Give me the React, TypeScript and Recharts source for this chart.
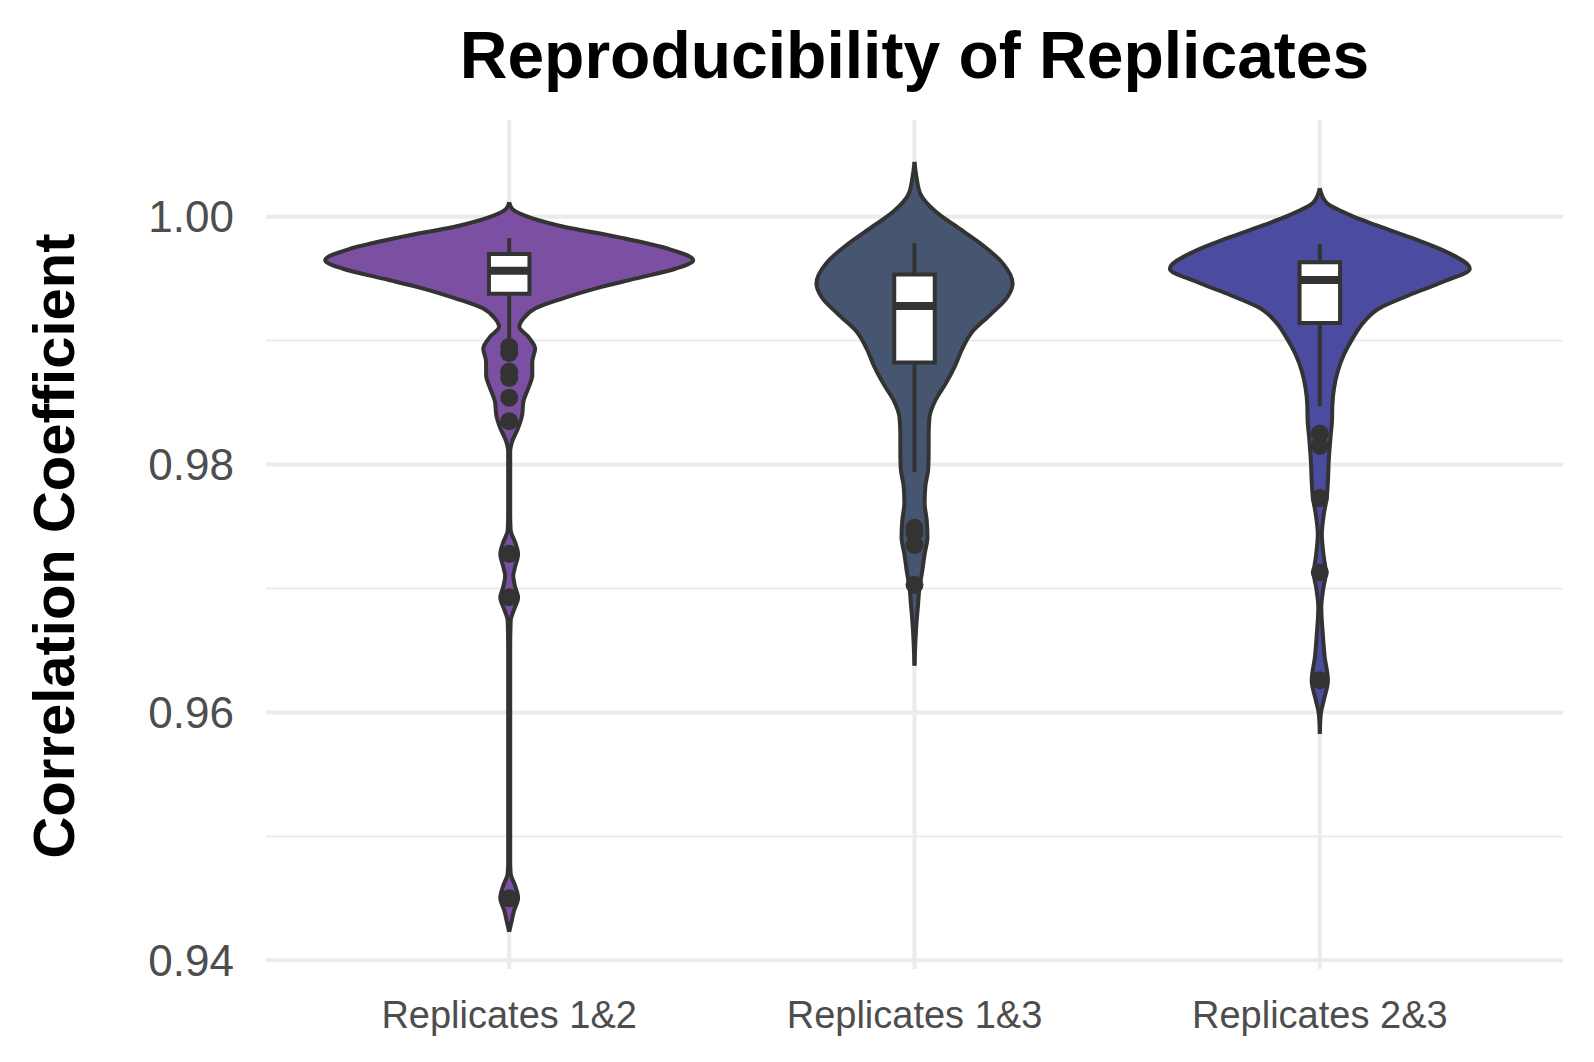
import React from "react";
import {
  ComposedChart,
  Area,
  Scatter,
  XAxis,
  YAxis,
  CartesianGrid,
  ReferenceLine,
  ReferenceArea,
} from "recharts";

const FONT = "'Liberation Sans', Arial, Helvetica, sans-serif";

const GROUPS = ["Replicates 1&2", "Replicates 1&3", "Replicates 2&3"];
const FILLS = ["#7B50A2", "#475670", "#4B4CA0"];
const Y_TICKS = [0.94, 0.96, 0.98, 1.0];
const MINOR_TICKS = [0.95, 0.97, 0.99];

// violin outlines: correlation value and half-width of the density (in group units)
const V12_Y = [1.00117, 1.00063, 1.0001, 0.99929, 0.99835, 0.99741, 0.99648, 0.9958, 0.995, 0.9942, 0.99339, 0.99259, 0.99178, 0.99111, 0.99031, 0.98937, 0.9883, 0.98723, 0.98615, 0.98508, 0.98401, 0.98294, 0.98187, 0.98106, 0.976, 0.9747, 0.9737, 0.97276, 0.9718, 0.971, 0.9701, 0.96927, 0.9683, 0.9674, 0.965, 0.948, 0.947, 0.946, 0.94502, 0.944, 0.943, 0.9423];
const V12_W = [0, 0.0074, 0.037, 0.121, 0.269, 0.392, 0.454, 0.41, 0.311, 0.212, 0.131, 0.064, 0.035, 0.025, 0.047, 0.064, 0.057, 0.057, 0.047, 0.035, 0.032, 0.022, 0.0074, 0.0025, 0.0025, 0.0037, 0.015, 0.022, 0.015, 0.01, 0.015, 0.022, 0.012, 0.0037, 0.0025, 0.0025, 0.0037, 0.015, 0.022, 0.012, 0.005, 0];

const V13_Y = [1.00442, 1.00318, 1.0018, 1.00041, 0.99903, 0.99765, 0.99627, 0.99461, 0.9935, 0.99212, 0.99074, 0.98935, 0.98797, 0.98659, 0.98521, 0.98382, 0.98244, 0.98106, 0.97968, 0.9783, 0.97691, 0.97553, 0.97415, 0.97277, 0.97138, 0.97, 0.96862, 0.96724, 0.96585, 0.96378];
const V13_W = [0, 0.005, 0.015, 0.052, 0.111, 0.17, 0.217, 0.242, 0.229, 0.188, 0.143, 0.118, 0.1, 0.078, 0.052, 0.037, 0.035, 0.035, 0.034, 0.027, 0.025, 0.03, 0.032, 0.025, 0.019, 0.012, 0.0086, 0.005, 0.0025, 0];

const V23_Y = [1.00229, 1.00117, 1.0001, 0.99929, 0.99822, 0.99715, 0.9958, 0.99473, 0.99366, 0.99259, 0.99152, 0.99018, 0.98884, 0.9875, 0.98615, 0.98482, 0.98348, 0.98241, 0.98026, 0.97865, 0.97731, 0.976, 0.97437, 0.9725, 0.97128, 0.97, 0.96846, 0.96633, 0.9645, 0.96257, 0.961, 0.95989, 0.95828];
const V23_W = [0, 0.015, 0.076, 0.141, 0.232, 0.313, 0.37, 0.303, 0.22, 0.146, 0.109, 0.081, 0.059, 0.044, 0.035, 0.031, 0.03, 0.027, 0.022, 0.02, 0.017, 0.01, 0.005, 0.01, 0.015, 0.0086, 0.0037, 0.0074, 0.012, 0.02, 0.01, 0.0025, 0];

// box statistics per group: whisker low, q1, median, q3, whisker high
const WHISKER_LOW = [0.99, 0.9794, 0.98471];
const Q1 = [0.99378, 0.98823, 0.99142];
const MEDIAN = [0.99563, 0.9928, 0.9949];
const Q3 = [0.99698, 0.99534, 0.99632];
const WHISKER_HIGH = [0.99828, 0.99787, 0.99779];

const OUTLIERS_12 = [0.9895, 0.989, 0.9875, 0.987, 0.9854, 0.9835, 0.9728, 0.9693, 0.945];
const OUTLIERS_13 = [0.9749, 0.9745, 0.9735, 0.9703];
const OUTLIERS_23 = [0.9825, 0.9815, 0.9773, 0.9713, 0.9626];

const VIOLINS = [
  { y: V12_Y, w: V12_W },
  { y: V13_Y, w: V13_W },
  { y: V23_Y, w: V23_W },
];
const OUTLIERS = [OUTLIERS_12, OUTLIERS_13, OUTLIERS_23];

const BOX_HALF = 0.05;
const DOMAIN: [number, number] = [0.9393, 1.0078];

// each violin gets its own y key so the other violins' rows are skipped
const rows: Record<string, any>[] = [];
VIOLINS.forEach((v, i) => {
  v.y.forEach((val, j) => {
    rows.push({ [`y${i}`]: val, [`v${i}`]: [i + 1 - v.w[j], i + 1 + v.w[j]] });
  });
});

const outlierRows = OUTLIERS.flatMap((list, i) => list.map((val) => ({ x: i + 1, y0: val })));

const Dot = (props: any) => <circle cx={props.cx} cy={props.cy} r={9} fill="#333333" />;

export default function App() {
  return (
    <div style={{ position: "absolute", left: 0, top: 0, width: 1594, height: 1062, background: "#fff" }}>
      <ComposedChart
        width={1594}
        height={1062}
        layout="vertical"
        data={rows}
        margin={{ top: 120, right: 31, bottom: 33, left: 106 }}
        style={{ fontFamily: FONT }}
      >
        <CartesianGrid
          stroke="#EBEBEB"
          strokeWidth={2}
          yAxisId="y0"
          vertical={false}
          horizontalValues={MINOR_TICKS}
        />
        <CartesianGrid stroke="#EBEBEB" strokeWidth={4} yAxisId="y0" syncWithTicks />
        <XAxis
          type="number"
          dataKey="x"
          domain={[0.4, 3.6]}
          ticks={[1, 2, 3]}
          interval={0}
          allowDataOverflow
          tickFormatter={(v) => GROUPS[v - 1]}
          axisLine={false}
          tickLine={false}
          tickSize={0}
          tickMargin={32}
          height={60}
          tick={{ fontSize: 38, fill: "#4D4D4D" }}
        />
        {[0, 1, 2].map((i) => (
          <YAxis
            key={i}
            yAxisId={`y${i}`}
            dataKey={`y${i}`}
            type="number"
            domain={DOMAIN}
            allowDataOverflow
            reversed
            hide={i > 0}
            ticks={Y_TICKS}
            interval={0}
            tickFormatter={(v) => v.toFixed(2)}
            axisLine={false}
            tickLine={false}
            tickSize={0}
            tickMargin={32}
            width={160}
            tick={{ fontSize: 44, fill: "#4D4D4D" }}
          />
        ))}
        {[0, 1, 2].map((i) => (
          <Area
            key={i}
            yAxisId={`y${i}`}
            dataKey={`v${i}`}
            type="monotone"
            connectNulls
            fill={FILLS[i]}
            fillOpacity={1}
            stroke="#333333"
            strokeWidth={4}
            isAnimationActive={false}
          />
        ))}
        {[0, 1, 2].map((i) => (
          <ReferenceLine
            key={`wl${i}`}
            yAxisId="y0"
            segment={[{ x: i + 1, y: WHISKER_LOW[i] }, { x: i + 1, y: Q1[i] }]}
            stroke="#333333"
            strokeWidth={4}
          />
        ))}
        {[0, 1, 2].map((i) => (
          <ReferenceLine
            key={`wh${i}`}
            yAxisId="y0"
            segment={[{ x: i + 1, y: Q3[i] }, { x: i + 1, y: WHISKER_HIGH[i] }]}
            stroke="#333333"
            strokeWidth={4}
          />
        ))}
        {[0, 1, 2].map((i) => (
          <ReferenceArea
            key={`box${i}`}
            yAxisId="y0"
            x1={i + 1 - BOX_HALF}
            x2={i + 1 + BOX_HALF}
            y1={Q1[i]}
            y2={Q3[i]}
            fill="#FFFFFF"
            fillOpacity={1}
            stroke="#333333"
            strokeWidth={4}
          />
        ))}
        {[0, 1, 2].map((i) => (
          <ReferenceLine
            key={`med${i}`}
            yAxisId="y0"
            segment={[{ x: i + 1 - BOX_HALF, y: MEDIAN[i] }, { x: i + 1 + BOX_HALF, y: MEDIAN[i] }]}
            stroke="#333333"
            strokeWidth={8}
          />
        ))}
        <Scatter yAxisId="y0" data={outlierRows} shape={Dot} isAnimationActive={false} />
      </ComposedChart>
      <svg
        width={1594}
        height={1062}
        style={{ position: "absolute", left: 0, top: 0, pointerEvents: "none", fontFamily: FONT }}
      >
        <text x={914.5} y={78} textAnchor="middle" fontSize={66} fontWeight="bold" fill="#000">
          Reproducibility of Replicates
        </text>
        <text transform="translate(74,546) rotate(-90)" textAnchor="middle" fontSize={58} fontWeight="bold" fill="#000">
          Correlation Coefficient
        </text>
      </svg>
    </div>
  );
}
